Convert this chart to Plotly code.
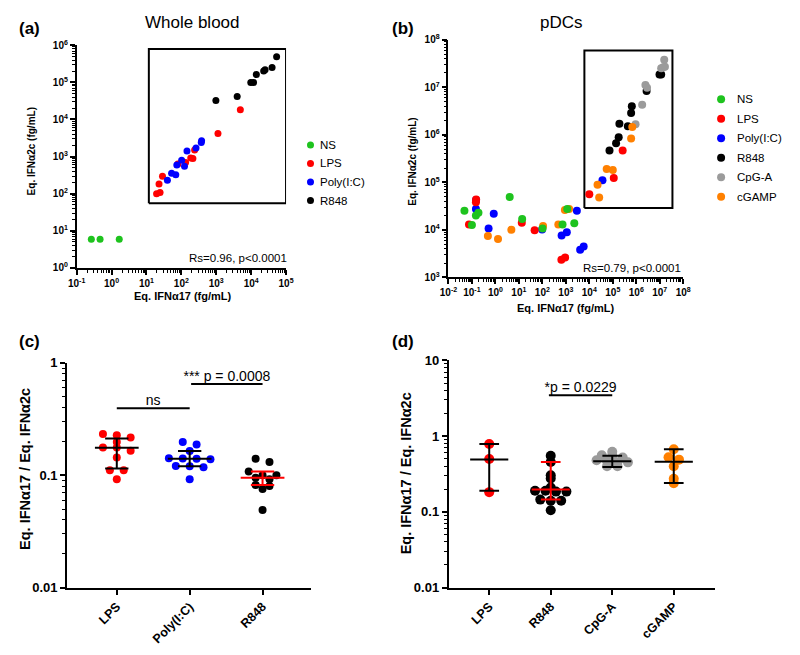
import numpy as np
import plotly.graph_objects as go

# The page adds an 8px body margin, so the figure is drawn 16px smaller and
# every target pixel position is shifted by that margin.
PAGE_W, PAGE_H = 800, 655
OFF = 8
W, H = PAGE_W - 2 * OFF, PAGE_H - 2 * OFF
FONT = "Arial, Liberation Sans, sans-serif"

# ---------------- DATA ----------------
# Panel (a) Whole blood : Eq. IFNa17 (x) vs Eq. IFNa2c (y), fg/mL
a_ns_x = [0.263, 0.468, 1.66]
a_ns_y = [5.9, 5.9, 5.9]
a_lps_x = [19.5, 24.5, 22.9, 28.8, 79.4, 132, 186, 214, 240, 1120, 4900]
a_lps_y = [100, 107, 182, 295, 631, 692, 912, 891, 1510, 4170, 18200]
a_poly_x = [39.8, 52.5, 69.2, 74.1, 102, 123, 145, 263, 372, 380]
a_poly_y = [229, 355, 324, 589, 794, 550, 1410, 1700, 2400, 2690]
a_r848_x = [977, 3980, 9770, 11700, 14100, 22900, 25100, 39800, 53700]
a_r848_y = [32400, 41700, 100000, 100000, 162000, 204000, 219000, 251000, 490000]

# Panel (b) pDCs
b_ns_x = [0.048, 0.1, 0.148, 0.19, 4.07, 13.8, 102, 724, 1150, 2290]
b_ns_y = [25100, 12600, 20000, 22900, 49000, 17000, 10700, 12900, 27500, 13800]
b_lps_x = [0.075, 0.151, 0.148, 13.3, 46.8, 646, 933, 10000, 110000, 263000]
b_lps_y = [12900, 43700, 38000, 14100, 9770, 2340, 2630, 56200, 123000, 468000]
b_poly_x = [0.148, 0.15, 0.513, 0.851, 97.7, 661, 1100, 2950, 4070, 5750, 36300]
b_poly_y = [27500, 42700, 10700, 21900, 10200, 7590, 8910, 25100, 3800, 4470, 110000]
b_r848_x = [72400, 138000, 178000, 191000, 437000, 603000, 646000, 2750000, 9770000, 11500000]
b_r848_y = [468000, 661000, 891000, 1700000, 1510000, 2880000, 3980000, 8320000, 18600000, 18600000]
b_cpg_x = [933000, 1780000, 2450000, 2880000, 11500000, 14100000, 16600000, 15500000]
b_cpg_y = [1660000, 4270000, 11200000, 9770000, 25100000, 26300000, 26900000, 38000000]
b_cgamp_x = [0.479, 1.29, 4.79, 107, 479, 912, 1380, 22400, 26300, 55000, 100000, 603000, 676000]
b_cgamp_y = [7410, 6460, 10000, 12000, 12900, 26300, 27500, 89100, 47900, 191000, 182000, 832000, 1450000]

# Panel (c) Whole blood ratio
c_categories = ["LPS", "Poly(I:C)", "R848"]
c_values = [
    [0.233, 0.227, 0.217, 0.198, 0.177, 0.177, 0.165, 0.144, 0.111, 0.111, 0.092],
    [0.198, 0.188, 0.164, 0.142, 0.141, 0.140, 0.139, 0.121, 0.120, 0.118, 0.092],
    [0.140, 0.131, 0.108, 0.100, 0.100, 0.095, 0.092, 0.082, 0.080, 0.0755, 0.049],
]
c_center = [0.176, 0.140, 0.095]
c_low = [0.115, 0.120, 0.082]
c_high = [0.212, 0.164, 0.108]

# Panel (d) pDC ratio
d_categories = ["LPS", "R848", "CpG-A", "cGAMP"]
d_values = [
    [0.787, 0.499, 0.182],
    [0.55, 0.456, 0.304, 0.275, 0.209, 0.19, 0.19, 0.185, 0.185, 0.145, 0.14, 0.14, 0.105],
    [0.62, 0.56, 0.55, 0.52, 0.48, 0.47, 0.45, 0.45, 0.40, 0.40],
    [0.671, 0.525, 0.489, 0.40, 0.273, 0.238],
]
d_center = [0.49, 0.197, 0.466, 0.457]
d_low = [0.19, 0.145, 0.39, 0.24]
d_high = [0.787, 0.456, 0.55, 0.67]

# significance brackets: (from category, to category, level, label)
c_sig = [(0, 1, 0.395, "ns"), (1.02, 2, 0.648, "*** p = 0.0008")]
d_sig = [(0.97, 2, 3.47, "*p = 0.0229")]

# gated regions (x0, x1, y0, y1)
a_gate = (11.7, 1e5, 55, 7.9e5)
b_gate = (6170, 3.47e7, 28800, 5.9e7)

a_legend = ["NS", "LPS", "Poly(I:C)", "R848"]
b_legend = ["NS", "LPS", "Poly(I:C)", "R848", "CpG-A", "cGAMP"]

# ---------------- STYLE ----------------
COL = {"NS": "#1ec31e", "LPS": "#ff0000", "Poly(I:C)": "#0000ff",
       "R848": "#000000", "CpG-A": "#9b9b9b", "cGAMP": "#ff8000"}


def px(X):
    return (X - OFF) / W


def py(Y):
    return 1 - (Y - OFF) / H


def xd(x0, x1):
    return [px(x0), px(x1)]


def yd(y_top, y_bot):
    return [py(y_bot), py(y_top)]


def sup(p):
    return "10<sup>%d</sup>" % p


fig = go.Figure()

axis_base = dict(showline=True, linecolor="black", linewidth=2, ticks="outside",
                 ticklen=5, tickwidth=1.5, tickcolor="black", showgrid=False,
                 zeroline=False, fixedrange=True,
                 tickfont=dict(family=FONT, size=10, color="black", weight="bold"))
minor = dict(ticks="outside", ticklen=3, tickwidth=1, tickcolor="black",
             dtick="D1", showgrid=False)


def logaxis(lo, hi, dom, fs=10, labels=None, lw=1.6):
    vals = [10.0 ** p for p in range(lo, hi + 1)]
    txt_ = [sup(p) for p in range(lo, hi + 1)] if labels is None else labels
    d = dict(axis_base)
    d.update(type="log", range=[lo, hi], domain=dom, tickmode="array",
             tickvals=vals, ticktext=txt_, minor=minor, linewidth=lw,
             tickfont=dict(family=FONT, size=fs, color="black", weight="bold"))
    return d


fig.update_layout(
    xaxis=dict(logaxis(-1, 5, xd(69, 283)), anchor="y"),
    yaxis=dict(logaxis(0, 6, yd(39, 267)), anchor="x"),
    xaxis2=dict(logaxis(-2, 8, xd(449, 689)), anchor="y2"),
    yaxis2=dict(logaxis(3, 8, yd(33.3, 276.7)), anchor="x2"),
    yaxis3=dict(logaxis(-2, 0, yd(364.3, 594.3), fs=13, lw=2,
                        labels=["0.01", "0.1", "1"]), anchor="x3"),
    yaxis4=dict(logaxis(-2, 1, yd(361.7, 594.3), fs=13, lw=2,
                        labels=["0.01", "0.1", "1", "10"]), anchor="x4"),
)

# category axes
c_unit = 74.5
d_unit = 62.9
fig.update_layout(
    xaxis3=dict(axis_base, domain=xd(59.3, 309), anchor="y3",
                range=[-(110 - 59.3) / c_unit, 2 + (309 - 259) / c_unit],
                tickmode="array", tickvals=list(range(len(c_categories))),
                ticktext=c_categories, tickangle=-45,
                tickfont=dict(family=FONT, size=12.5, color="black", weight="bold")),
    xaxis4=dict(axis_base, domain=xd(449.3, 721.7), anchor="y4",
                range=[-(490.7 - 449.3) / d_unit, 3 + (721.7 - 679.3) / d_unit],
                tickmode="array", tickvals=list(range(len(d_categories))),
                ticktext=d_categories, tickangle=-45,
                tickfont=dict(family=FONT, size=12.5, color="black", weight="bold")),
)


# ---------------- scatter panels ----------------
def gate_trace(g, xa, ya):
    x0, x1, y0, y1 = g
    return go.Scatter(x=[x0, x1, x1, x0, x0], y=[y0, y0, y1, y1, y0], mode="lines",
                      line=dict(color="black", width=2), xaxis=xa, yaxis=ya,
                      showlegend=False, hoverinfo="skip", cliponaxis=False)


fig.add_trace(gate_trace(a_gate, "x", "y"))
a_series = {"NS": (a_ns_x, a_ns_y), "LPS": (a_lps_x, a_lps_y),
            "Poly(I:C)": (a_poly_x, a_poly_y), "R848": (a_r848_x, a_r848_y)}
for name in ["NS", "LPS", "Poly(I:C)", "R848"]:
    xs, ys = a_series[name]
    fig.add_trace(go.Scatter(x=xs, y=ys, mode="markers", name=name,
                             marker=dict(color=COL[name], size=7),
                             xaxis="x", yaxis="y", showlegend=False,
                             cliponaxis=False))

fig.add_trace(gate_trace(b_gate, "x2", "y2"))
b_series = {"NS": (b_ns_x, b_ns_y), "LPS": (b_lps_x, b_lps_y),
            "Poly(I:C)": (b_poly_x, b_poly_y), "R848": (b_r848_x, b_r848_y),
            "CpG-A": (b_cpg_x, b_cpg_y), "cGAMP": (b_cgamp_x, b_cgamp_y)}
for name in ["Poly(I:C)", "LPS", "R848", "CpG-A", "cGAMP", "NS"]:
    xs, ys = b_series[name]
    fig.add_trace(go.Scatter(x=xs, y=ys, mode="markers", name=name,
                             marker=dict(color=COL[name], size=8),
                             xaxis="x2", yaxis="y2", showlegend=False,
                             cliponaxis=False))


# ---------------- dot plots ----------------
def swarm(vals, bw, step):
    lv = np.log10(np.asarray(vals, dtype=float))
    order = np.argsort(-lv, kind="stable")
    offs = np.zeros(len(vals))
    rows, cur = [], [order[0]]
    for idx in order[1:]:
        if lv[cur[0]] - lv[idx] < bw:
            cur.append(idx)
        else:
            rows.append(cur)
            cur = [idx]
    rows.append(cur)
    for r in rows:
        n = len(r)
        for k, idx in enumerate(r):
            offs[idx] = (k - (n - 1) / 2) * step
    return offs


def summary_trace(i, m, lo, hi, half, cap, color, xa, ya):
    xs = [i - half, i + half, None, i, i, None, i - cap, i + cap, None, i - cap, i + cap]
    ys = [m, m, None, lo, hi, None, lo, lo, None, hi, hi]
    return go.Scatter(x=xs, y=ys, mode="lines", line=dict(color=color, width=2),
                      xaxis=xa, yaxis=ya, showlegend=False, hoverinfo="skip")


for i, (cat, vals) in enumerate(zip(c_categories, c_values)):
    offs = swarm(vals, 0.035, 0.19)
    fig.add_trace(go.Scatter(x=i + offs, y=vals, mode="markers", name=cat,
                             marker=dict(color=COL[cat], size=8),
                             xaxis="x3", yaxis="y3", showlegend=False))
for i, cat in enumerate(c_categories):
    col = "#ff0000" if cat == "R848" else "black"
    fig.add_trace(summary_trace(i, c_center[i], c_low[i], c_high[i], 0.3, 0.16,
                                col, "x3", "y3"))

for i, (cat, vals) in enumerate(zip(d_categories, d_values)):
    offs = swarm(vals, 0.04, 0.17)
    fig.add_trace(go.Scatter(x=i + offs, y=vals, mode="markers", name=cat,
                             marker=dict(color=COL[cat], size=10),
                             xaxis="x4", yaxis="y4", showlegend=False))
for i, cat in enumerate(d_categories):
    col = "#ff0000" if cat == "R848" else "black"
    fig.add_trace(summary_trace(i, d_center[i], d_low[i], d_high[i], 0.31, 0.16,
                                col, "x4", "y4"))


def sig_traces(sig, xa, ya):
    out = []
    for x0, x1, yv, lab in sig:
        out.append(go.Scatter(x=[x0, x1], y=[yv, yv], mode="lines",
                              line=dict(color="black", width=2), xaxis=xa, yaxis=ya,
                              showlegend=False, hoverinfo="skip"))
        out.append(go.Scatter(x=[(x0 + x1) / 2], y=[yv], mode="text", text=[lab],
                              textposition="top center",
                              textfont=dict(family=FONT, size=14, color="black"),
                              xaxis=xa, yaxis=ya, showlegend=False, hoverinfo="skip"))
    return out


for t in sig_traces(c_sig, "x3", "y3") + sig_traces(d_sig, "x4", "y4"):
    fig.add_trace(t)

# ---------------- annotations / hand-placed legends ----------------
ann = []
shapes = []


def txt(text, X, Y, size, bold=False, xanchor="center", yanchor="middle", angle=0):
    ann.append(dict(text=text, x=px(X), y=py(Y), xref="paper", yref="paper",
                    showarrow=False, xanchor=xanchor, yanchor=yanchor, textangle=angle,
                    font=dict(family=FONT, size=size, color="black",
                              weight="bold" if bold else "normal")))


def legend_block(names, mx, tx, y0, dy, size):
    r = size / 2
    for k, n in enumerate(names):
        Y = y0 + k * dy
        shapes.append(dict(type="circle", xref="paper", yref="paper",
                           xsizemode="pixel", ysizemode="pixel",
                           xanchor=px(mx), yanchor=py(Y),
                           x0=-r, x1=r, y0=-r, y1=r,
                           fillcolor=COL[n], line=dict(width=0)))
        txt(n, tx, Y, 11.5, xanchor="left")


legend_block(a_legend, 308, 316, 141, 19, 7)
legend_block(b_legend, 727.7, 742, 94.3, 19.95, 8)

txt("(a)", 8, 22, 17, True, xanchor="left")
txt("(b)", 389, 22, 17, True, xanchor="left")
txt("(c)", 8, 342, 17, True, xanchor="left")
txt("(d)", 389, 342, 17, True, xanchor="left")
txt("Whole blood", 187, 16, 17)
txt("pDCs", 565, 16, 17)
txt("Eq. IFNα17 (fg/mL)", 178, 296, 11, True)
txt("Eq. IFNα17 (fg/mL)", 569, 308, 11, True)
txt("Eq. IFNα2c (fg/mL)", 23, 148, 10, True, angle=-90)
txt("Eq. IFNα2c (fg/mL)", 412, 158, 10, True, angle=-90)
txt("Eq. IFNα17 / Eq. IFNα2c", 16, 473, 14.5, True, angle=-90)
txt("Eq. IFNα17 / Eq. IFNα2c", 406, 477, 14.5, True, angle=-90)
txt("Rs=0.96, p<0.0001", 286, 257, 11.5, xanchor="right")
txt("Rs=0.79, p<0.0001", 689, 267, 11.5, xanchor="right")

fig.update_layout(
    width=W, height=H, margin=dict(l=0, r=0, t=0, b=0),
    paper_bgcolor="white", plot_bgcolor="rgba(0,0,0,0)",
    font=dict(family=FONT, color="black"),
    annotations=ann, shapes=shapes, showlegend=False,
)

fig.write_html("out.html", config={"displayModeBar": False})
